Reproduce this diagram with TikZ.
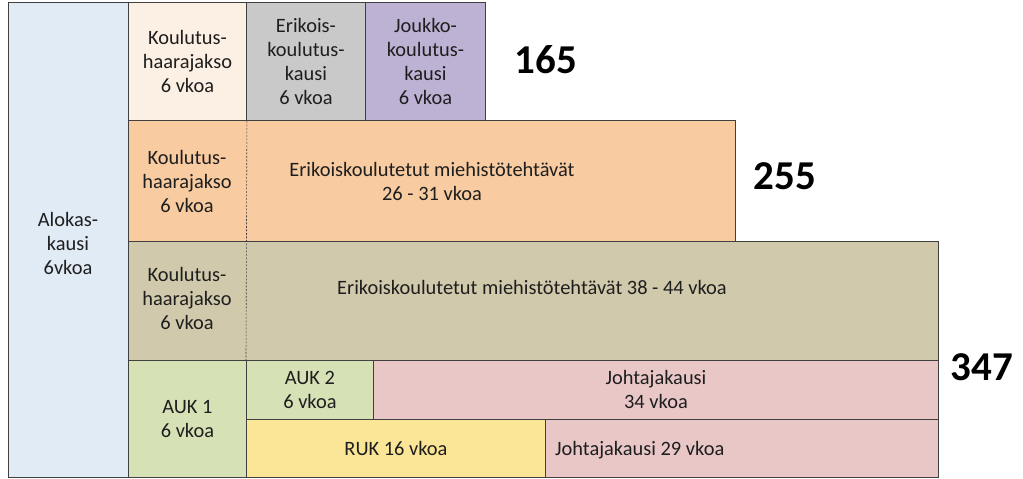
\documentclass[tikz,border=0pt]{standalone}
\usepackage{fontspec}
\setmainfont{Carlito}
\definecolor{cblue}{HTML}{E1EBF6}
\definecolor{cpeachl}{HTML}{FCEFE3}
\definecolor{cgray}{HTML}{C9C9C9}
\definecolor{clav}{HTML}{BEB2D4}
\definecolor{corange}{HTML}{F8CBA1}
\definecolor{ctan}{HTML}{D0C9AB}
\definecolor{cgreen}{HTML}{D6E2B6}
\definecolor{cpink}{HTML}{E8C7C6}
\definecolor{cyellow}{HTML}{FBE596}
\definecolor{cborder}{HTML}{404040}
\definecolor{ctext}{HTML}{1E1E1E}
\tikzset{
  cell/.style={draw=cborder, line width=0.9pt, anchor=north west, inner sep=0pt,
    align=center, font=\fontsize{20.4}{24}\selectfont, text=ctext},
  lbl/.style={align=center, font=\fontsize{20.4}{24}\selectfont, text=ctext, inner sep=0pt},
  big/.style={font=\fontsize{41}{43}\selectfont\bfseries, text=black, inner sep=0pt}
}
\begin{document}
\begin{tikzpicture}[x=1pt,y=-1pt]
\useasboundingbox (0,0) rectangle (1023,479);
% left column
\node[cell, fill=cblue, minimum width=120pt, minimum height=475pt] (alok) at (8,2) {};
\node[lbl] (alokt) at (68,243) {Alokas-\\kausi\\6vkoa};
% row 1
\node[cell, fill=cpeachl, minimum width=118pt, minimum height=118pt] (k1) at (128,2) {Koulutus-\\haarajakso\\6 vkoa};
\node[cell, fill=cgray, minimum width=119pt, minimum height=118pt] (e1) at (246,2) {Erikois-\\koulutus-\\kausi\\6 vkoa};
\node[cell, fill=clav, minimum width=120pt, minimum height=118pt] (j1) at (365,2) {Joukko-\\koulutus-\\kausi\\6 vkoa};
\node[big] (n165) at (546,60) {165};
% row 2
\node[cell, fill=corange, minimum width=607pt, minimum height=121pt] (r2) at (128,120) {};
\node[lbl] (k2) at (187,181) {Koulutus-\\haarajakso\\6 vkoa};
\node[lbl] (m2) at (432,181) {Erikoiskoulutetut miehistötehtävät\\26 - 31 vkoa};
\node[big] (n255) at (785,176) {255};
% row 3
\node[cell, fill=ctan, minimum width=810pt, minimum height=119pt] (r3) at (128,241) {};
\node[lbl] (k3) at (187,298) {Koulutus-\\haarajakso\\6 vkoa};
\node[lbl] (m3) at (532,287) {Erikoiskoulutetut miehistötehtävät 38 - 44 vkoa};
\draw[cborder, line width=0.6pt, dash pattern=on 2pt off 1.5pt] (k1.south east) -- ([xshift=118pt]r3.south west);
% row 4
\node[cell, fill=cgreen, minimum width=118pt, minimum height=117pt] (auk1) at (128,360) {AUK 1\\6 vkoa};
\node[cell, fill=cgreen, minimum width=127pt, minimum height=59pt] (auk2) at (246,360) {AUK 2\\6 vkoa};
\node[cell, fill=cpink, minimum width=565pt, minimum height=59pt] (jk34) at (373,360) {Johtajakausi\\34 vkoa};
\node[cell, fill=cyellow, minimum width=299pt, minimum height=58pt] (ruk) at (246,419) {RUK 16 vkoa};
\node[cell, fill=cpink, minimum width=393pt, minimum height=58pt] (jk29) at (545,419) {};
\node[lbl, anchor=west] (jk29t) at (555,450) {Johtajakausi 29 vkoa};
\node[big] (n347) at (982,367) {347};
\end{tikzpicture}
\end{document}
